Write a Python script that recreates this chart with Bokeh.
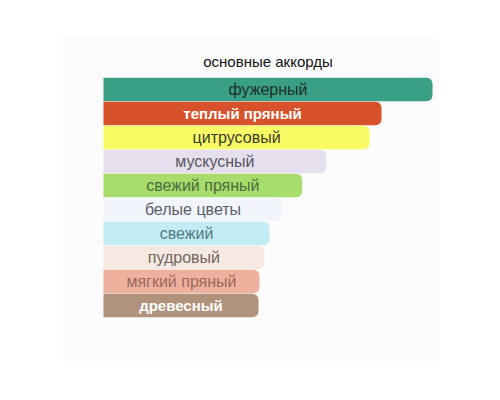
from bokeh.plotting import figure
from bokeh.models import ColumnDataSource, Range1d, Label
from bokeh.embed import file_html
from bokeh.resources import INLINE
from bokeh.core.properties import value

title_text = "основные аккорды"
categories = ["фужерный", "теплый пряный", "цитрусовый", "мускусный", "свежий пряный",
              "белые цветы", "свежий", "пудровый", "мягкий пряный", "древесный"]
values = [100, 84.5, 80.9, 67.7, 60.4, 54.4, 50.5, 48.9, 47.4, 47.1]
bar_colors = ["#399f85", "#d7522b", "#f8fb63", "#e6e0ee", "#a7dd6c",
              "#f2f5fb", "#c3ecf4", "#f5e9e1", "#eeb19d", "#b1927a"]
text_colors = ["#1d2f29", "#ffffff", "#3a3a2a", "#5a5560", "#4d6b3e",
               "#5a5f6a", "#537a84", "#6f6663", "#9a6a5c", "#ffffff"]
text_styles = ["normal", "bold", "normal", "normal", "normal",
               "normal", "normal", "normal", "normal", "bold"]
text_sizes = ["16px" if s == "normal" else "15px" for s in text_styles]

ypos = list(range(len(categories)))
src = ColumnDataSource(dict(
    y=ypos, v=values, mid=[v / 2 for v in values], name=categories,
    color=bar_colors, tcolor=text_colors, tstyle=text_styles, tsize=text_sizes,
))

p = figure(width=484, height=384, output_backend="svg", toolbar_location=None,
           x_range=Range1d(-12.46, 102.13), y_range=Range1d(11.375, -2.25),
           min_border_left=62, min_border_right=45, min_border_top=35, min_border_bottom=22)
p.axis.visible = False
p.grid.visible = False
p.outline_line_color = None
p.background_fill_color = "#fcfcfc"
p.border_fill_color = "#ffffff"

p.hbar(y="y", left=0, right="v", height=0.97, fill_color="color", line_color=None,
       border_radius=(0, 6, 6, 0), source=src)
p.text(x="mid", y="y", text="name", text_color="tcolor", text_font_style="tstyle",
       text_font=value("Liberation Sans"), text_font_size="tsize",
       text_align="center", text_baseline="middle", source=src)

p.add_layout(Label(x=values[0] / 2, y=-1.17, text=title_text, text_align="center",
                   text_baseline="middle", text_font="Liberation Sans",
                   text_font_size="15px", text_color="#111111"))

open("out.html", "w").write(file_html(p, INLINE))
